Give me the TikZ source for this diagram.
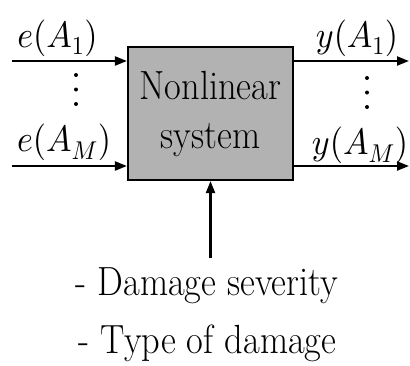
\documentclass[tikz,border=0pt]{standalone}
\DeclareFontShape{OML}{cmm}{m}{it}{<->cmmi10}{}
\DeclareFontShape{OT1}{cmr}{m}{n}{<->cmr10}{}
\usetikzlibrary{arrows.meta}
\newcommand\myvstretch[1]{\scalebox{1}[1.12]{#1}}
\newcommand\mymstretch[1]{\scalebox{1}[1.08]{#1}}
\begin{document}
\begin{tikzpicture}[x=1pt,y=-1pt,
  txt/.style={font=\fontsize{36.4}{49}\selectfont, inner sep=0pt},
  mth/.style={font=\fontsize{34}{40}\selectfont, inner sep=0pt},
  arr/.style={-{Triangle[length=12pt,width=9pt]}, line width=2.1pt},
  sysbox/.style={draw, line width=2.1pt, fill=gray!60, minimum width=165pt, minimum height=133pt, inner sep=0pt, align=center},
  dot/.style={fill=black, circle, inner sep=0pt, minimum size=4pt}]
\useasboundingbox (0,0) rectangle (410,365);
\node[sysbox, txt] (sys) at (210.5,113.5) {\myvstretch{Nonlinear}\\\myvstretch{system}};
\coordinate (in1) at (12,61);
\coordinate (inM) at (12,166);
\coordinate (out1) at (409,61);
\coordinate (outM) at (409,166);
\coordinate (ctl) at (210.5,258);
\draw[arr] (in1) -- (sys.west |- in1);
\draw[arr] (inM) -- (sys.west |- inM);
\draw[arr] (sys.east |- out1) -- (out1);
\draw[arr] (sys.east |- outM) -- (outM);
\draw[arr] (ctl) -- (sys.south);
\node[mth, anchor=base] (e1) at (57.5,47) {\mymstretch{$e(A_1)$}};
\node[mth, anchor=base] (eM) at (64,151) {\mymstretch{$e(A_M)$}};
\node[mth, anchor=base] (y1) at (357,47) {\mymstretch{$y(A_1)$}};
\node[mth, anchor=base] (yM) at (360,154) {\mymstretch{$y(A_M)$}};
\node[dot] (ld1) at (76,75) {};
\node[dot] (ld2) at (76,89.5) {};
\node[dot] (ld3) at (76,104) {};
\node[dot] (rd1) at (367,78) {};
\node[dot] (rd2) at (367,92.5) {};
\node[dot] (rd3) at (367,107) {};
\node[txt, anchor=base] (sev) at (207,295) {\myvstretch{- Damage severity}};
\node[txt, anchor=base] (typ) at (207.5,353) {\myvstretch{- Type of damage}};
\end{tikzpicture}
\end{document}
